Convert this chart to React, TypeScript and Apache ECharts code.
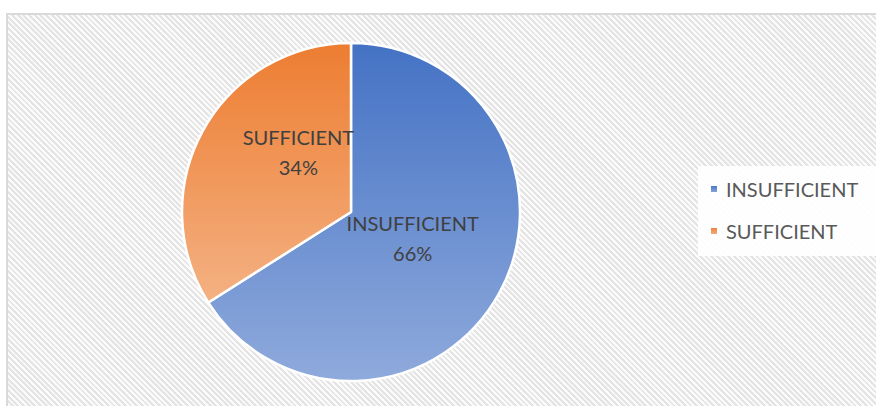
import React, { useEffect, useRef } from "react";
import * as echarts from "echarts";

const categories = ["INSUFFICIENT", "SUFFICIENT"];
const values = [66, 34];
const topColors = ["#4472C4", "#ED7D31"];
const bottomColors = ["#8FAADC", "#F4B183"];
const labelOffsets = [
  [-15, -16],
  [24, -18],
];

export default function App() {
  const ref = useRef<HTMLDivElement>(null);
  useEffect(() => {
    if (!ref.current) return;
    const chart = echarts.init(ref.current, undefined, { renderer: "svg" });
    const font = "Lato, 'Noto Sans', sans-serif";
    chart.setOption({
      animation: false,
      backgroundColor: "transparent",
      graphic: [
        {
          type: "rect",
          shape: { x: 698, y: 166, width: 180, height: 90 },
          style: { fill: "#ffffff", opacity: 0.9 },
          silent: true,
          z: -1,
        },
      ],
      legend: {
        orient: "vertical",
        left: 704,
        top: 174,
        icon: "rect",
        itemWidth: 8,
        itemHeight: 8,
        itemGap: 22,
        data: categories,
        textStyle: { color: "#595959", fontSize: 20, fontFamily: font, padding: [0, 0, 0, 3] },
      },
      series: [
        {
          type: "pie",
          center: [351, 212],
          radius: [0, 169],
          startAngle: 90,
          clockwise: true,
          avoidLabelOverlap: false,
          itemStyle: { borderColor: "#ffffff", borderWidth: 2.5 },
          label: {
            show: true,
            position: "inside",
            formatter: "{b}\n{d}%",
            color: "#404040",
            fontSize: 20,
            lineHeight: 30,
            fontFamily: font,
            align: "center",
          },
          labelLine: { show: false },
          labelLayout: (p: any) => ({
            dx: labelOffsets[p.dataIndex][0],
            dy: labelOffsets[p.dataIndex][1],
          }),
          emphasis: { disabled: true },
          data: categories.map((name, i) => ({
            name,
            value: values[i],
            itemStyle: {
              color: new echarts.graphic.LinearGradient(0, 0, 0, 1, [
                { offset: 0, color: topColors[i] },
                { offset: 1, color: bottomColors[i] },
              ]),
            },
          })),
        },
      ],
    });
    return () => chart.dispose();
  }, []);
  return (
    <div style={{ position: "fixed", left: 0, top: 0, width: 876, height: 406, background: "#ffffff", overflow: "hidden" }}>
      <div
        style={{
          position: "absolute",
          left: 6,
          top: 13,
          width: 900,
          height: 420,
          boxSizing: "border-box",
          border: "2px solid #d9d9d9",
          background: "repeating-linear-gradient(45deg, #e4e4e4 0px, #e4e4e4 2px, #fbfbfb 2px, #fbfbfb 4px)",
        }}
      />
      <div ref={ref} style={{ position: "absolute", left: 0, top: 0, width: 876, height: 406 }} />
    </div>
  );
}
